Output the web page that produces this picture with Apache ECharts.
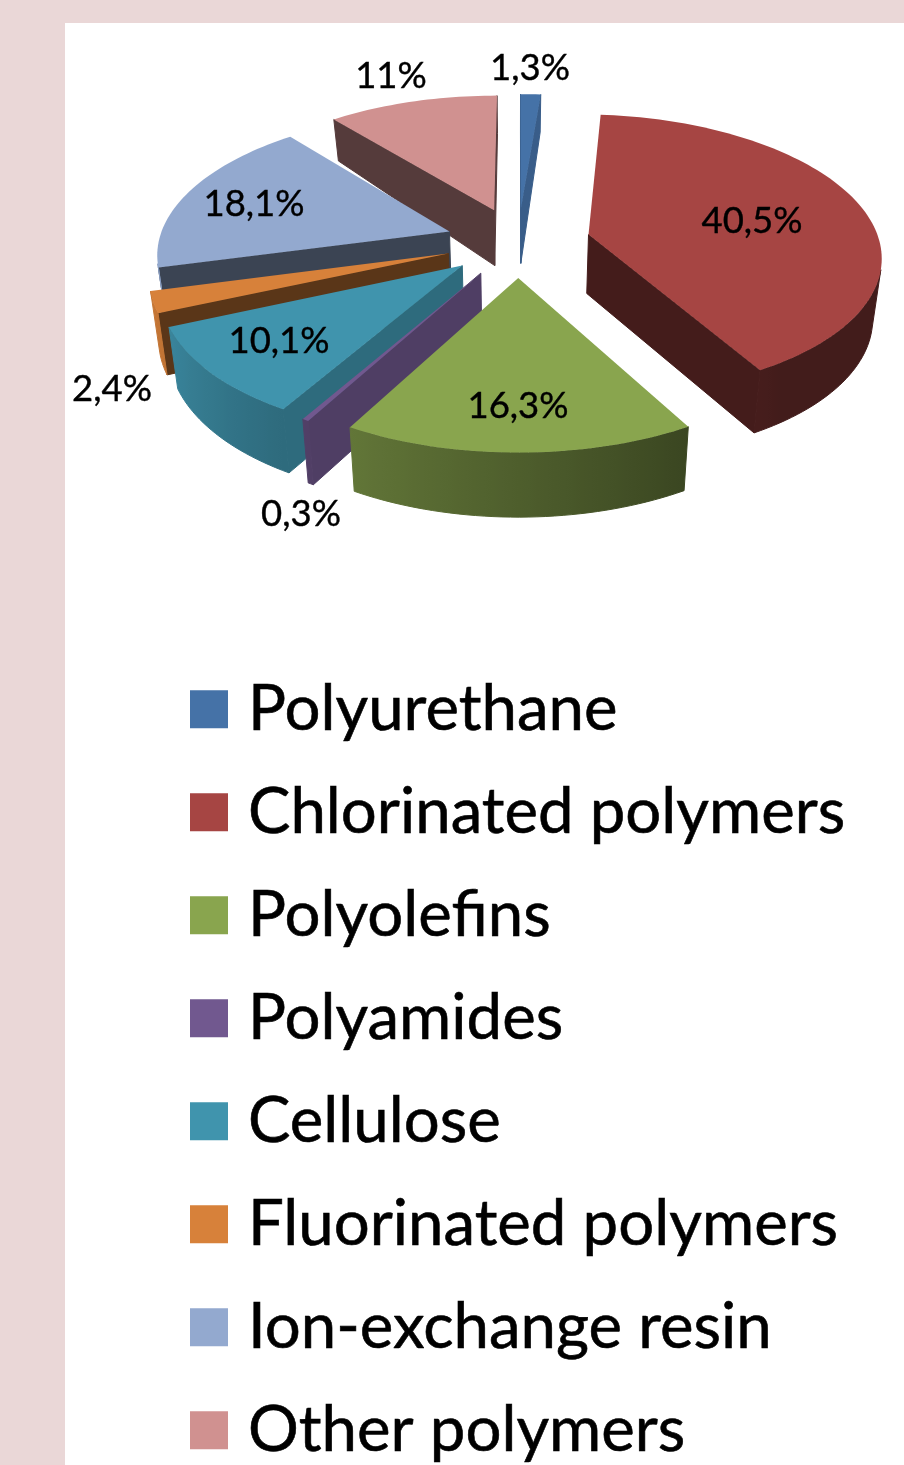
<!DOCTYPE html>
<html>
<head>
<meta charset="utf-8">
<title>Polymers</title>
<script src="https://cdn.jsdelivr.net/npm/echarts@6/dist/echarts.min.js"></script>
<style>
  html, body { margin: 0; padding: 0; background: #ead7d7; }
  #chart { width: 904px; height: 1465px; }
</style>
</head>
<body>
<div id="chart"></div>
<script>
// chart data
const categories = ['Polyurethane', 'Chlorinated polymers', 'Polyolefins', 'Polyamides', 'Cellulose', 'Fluorinated polymers', 'Ion-exchange resin', 'Other polymers'];
const shares = [1.3, 40.5, 16.3, 0.3, 10.1, 2.4, 18.1, 11];
const sliceColors = ['#4572a7', '#a64543', '#89a54e', '#71588f', '#4094ad', '#d7813a', '#93a9cf', '#d09190'];

// --------------------------------------------------------
// 3d pie layout: a flat disc seen in perspective
const pie = { cx: 518, cy: 242, rx: 291, ry: 139, persp: 0.14, explode: 0.25 };
// painter's order, far slices first
const drawOrder = [7, 0, 6, 1, 5, 4, 3, 2];
// how dark the straight cut face of each slice is
const cutShade = [0.82, 0.41, 0.5, 0.7, 0.72, 0.42, 0.4, 0.41];
// label centres in page pixels
const labelSpots = [[530, 68], [752, 221], [518, 406], [301, 514], [279, 341], [112, 389], [254, 204], [391, 76]];

const total = shares.reduce((a, b) => a + b, 0);
const startAngles = [];
shares.reduce((sum, v, i) => { startAngles[i] = sum / total * 360; return sum + v; }, 0);

function rad(deg) { return deg * Math.PI / 180; }

function project(x, y, low) {
    const w = 1 - pie.persp * y;
    const yw = y / w;
    const drop = yw < 0 ? 60 + 21 * yw : 60 + 3 * yw;
    return [
        pie.cx + pie.rx * x / w * (low ? 0.975 : 1),
        pie.cy + pie.ry * yw + (low ? drop : 0)
    ];
}

function shade(hex, k) {
    const n = parseInt(hex.slice(1), 16);
    const c = [n >> 16, (n >> 8) & 255, n & 255].map((v) => Math.round(v * k));
    return 'rgb(' + c.join(',') + ')';
}

// wall brightness by angle
function wallShade(deg) {
    return Math.max(0.4, Math.min(0.92, 0.42 + (deg - 150) * 0.005));
}

function faceVisible(q) {
    let area = 0;
    q.forEach((p, i) => {
        const n = q[(i + 1) % q.length];
        area += p[0] * n[1] - n[0] * p[1];
    });
    return area < 0;
}

// stroked in its own colour so no white seam shows between faces
function poly(points, fill, z2, sealed) {
    return {
        type: 'polygon',
        shape: { points: points },
        style: sealed ? { fill: fill, stroke: fill, lineWidth: 1, lineJoin: 'round' } : { fill: fill },
        z2: z2,
        silent: true
    };
}

function renderSlice(i, value) {
    const from = startAngles[i];
    const sweep = value / total * 360;
    const mid = rad(from + sweep / 2);
    const ox = Math.sin(mid) * pie.explode;
    const oy = -Math.cos(mid) * pie.explode;
    const base = sliceColors[i];
    const z = (drawOrder.indexOf(i) + 1) * 10;
    const steps = Math.max(2, Math.ceil(sweep / 1.5));
    const rim = [];
    for (let s = 0; s <= steps; s++) {
        const d = from + sweep * s / steps;
        rim.push({ deg: d, x: ox + Math.sin(rad(d)), y: oy - Math.cos(rad(d)) });
    }
    const children = [];

    // cut faces
    const first = rim[0];
    const last = rim[steps];
    [[[ox, oy], [first.x, first.y]], [[last.x, last.y], [ox, oy]]].forEach((edge) => {
        const q = [project(edge[0][0], edge[0][1]), project(edge[1][0], edge[1][1]),
            project(edge[1][0], edge[1][1], true), project(edge[0][0], edge[0][1], true)];
        if (faceVisible(q)) children.push(poly(q, shade(base, cutShade[i]), z, true));
    });

    // outer wall: the rim part facing the viewer, one polygon with a sideways gradient
    const seen = rim.slice(0, -1).filter((a, s) => {
        const b = rim[s + 1];
        return faceVisible([project(a.x, a.y), project(b.x, b.y), project(b.x, b.y, true), project(a.x, a.y, true)]);
    });
    if (seen.length) {
        const end = rim[rim.indexOf(seen[seen.length - 1]) + 1];
        const arc = seen.concat([end]);
        const upper = arc.map((p) => project(p.x, p.y));
        const lower = arc.map((p) => project(p.x, p.y, true));
        const xs = upper.concat(lower).map((p) => p[0]);
        const x0 = Math.min.apply(null, xs);
        const x1 = Math.max.apply(null, xs);
        const span = Math.max(x1 - x0, 1);
        const stops = arc.map((p, k) => ({
            offset: Math.min(1, Math.max(0, (upper[k][0] - x0) / span)),
            color: shade(base, wallShade(p.deg))
        })).sort((a, b) => a.offset - b.offset);
        children.push(poly(upper.concat(lower.reverse()), {
            type: 'linear', global: true, x: x0, y: 0, x2: x1, y2: 0, colorStops: stops
        }, z + 1, true));
    }

    // top face
    const top = [project(ox, oy)].concat(rim.map((p) => project(p.x, p.y)));
    children.push(poly(top, base, z + 2));

    // label
    children.push({
        type: 'text',
        silent: true,
        z2: 1000,
        style: {
            text: String(value).replace('.', ',') + '%',
            x: labelSpots[i][0],
            y: labelSpots[i][1],
            fill: '#000',
            stroke: '#000',
            lineWidth: 0.4,
            font: '36.5px Lato',
            align: 'center',
            verticalAlign: 'middle'
        }
    });
    return { type: 'group', children: children };
}

const chart = echarts.init(document.getElementById('chart'));

chart.setOption({
    backgroundColor: '#ead7d7',
    animation: false,
    graphic: [{
        type: 'rect',
        z: -1,
        silent: true,
        shape: { x: 65, y: 23, width: 839, height: 1442 },
        style: { fill: '#fff' }
    }],
    legend: {
        data: categories,
        orient: 'vertical',
        left: 190,
        top: 677,
        height: 1000,
        padding: 0,
        itemWidth: 38,
        itemHeight: 38,
        itemGap: 38.4,
        icon: 'rect',
        selectedMode: false,
        textStyle: {
            color: '#000',
            fontFamily: 'Lato',
            fontSize: 63.5,
            lineHeight: 62,
            padding: [0, 0, 0, 15],
            textBorderColor: '#000',
            textBorderWidth: 0.6
        }
    },
    series: categories.map((name, i) => ({
        type: 'custom',
        name: name,
        coordinateSystem: 'none',
        silent: true,
        itemStyle: { color: sliceColors[i] },
        data: [shares[i]],
        renderItem: (params, api) => renderSlice(i, api.value(0))
    }))
});
</script>
</body>
</html>
